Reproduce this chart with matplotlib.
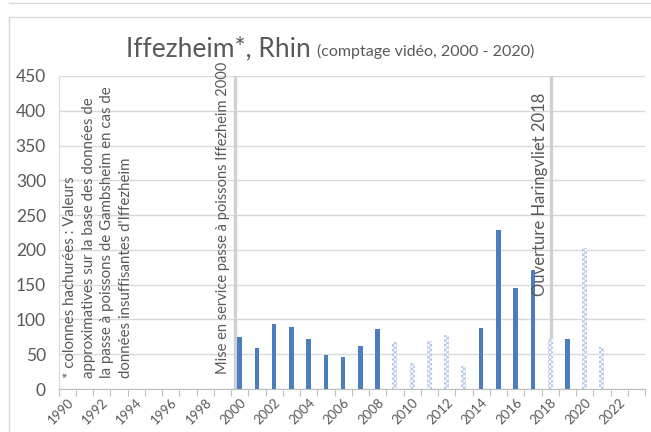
import numpy as np
import matplotlib.pyplot as plt
import matplotlib.patches as mpatches
from matplotlib.lines import Line2D

plt.rcParams['font.family'] = ['Lato', 'DejaVu Sans']
plt.rcParams['hatch.linewidth'] = 0.7

# Data: yearly counts, solid = measured at Iffezheim, hatched = estimated from Gambsheim
years = list(range(1990, 2024))
solid_years = [2000, 2001, 2002, 2003, 2004, 2005, 2006, 2007, 2008, 2014, 2015, 2016, 2017, 2019]
solid_vals = [75, 59, 94, 89, 72, 49, 46, 62, 86, 87, 228, 145, 171, 72]
hatch_years = [2009, 2010, 2011, 2012, 2013, 2018, 2020, 2021]
hatch_vals = [67, 38, 69, 77, 33, 72, 203, 60]
event_pos = [1999.72, 2018.07]
event_labels = ['Mise en service passe à poissons Iffezheim 2000', 'Ouverture Haringvliet 2018']
tick_years = list(range(1990, 2023, 2))

grey = '#595959'
grid = '#d9d9d9'
blue = '#4a7ebf'
hatch_blue = '#b3c8e6'

fig = plt.figure(figsize=(6.51, 4.32), dpi=100)
W, H = 651, 432

# chart frame (outer border) and edge of the element above
fig.patches.append(mpatches.Rectangle((9 / W, -0.01), 1.0, (H - 17) / H + 0.01, transform=fig.transFigure,
                                      fill=False, edgecolor='#d9d9d9', linewidth=1.0))
fig.lines.append(Line2D([9 / W, 1], [1 - 2.5 / H, 1 - 2.5 / H], transform=fig.transFigure, color='#d9d9d9', lw=1.0))

ax = fig.add_axes([58.5 / W, 1 - 389 / H, (645 - 58.5) / W, (389 - 76) / H])

def pos(y):
    return np.asarray(y) - 1990

ax.bar(pos(solid_years), solid_vals, width=0.26, color=blue, zorder=3)
ax.bar(pos(hatch_years), hatch_vals, width=0.28, facecolor='white', edgecolor=hatch_blue,
       hatch='xxxxxxx', linewidth=0, zorder=3)

ax.set_xlim(-0.5, len(years) - 0.5)
ax.set_ylim(0, 450)
ax.set_yticks(range(0, 451, 50))
ax.yaxis.grid(True, color=grid, linewidth=1.0, zorder=0)
ax.set_axisbelow(True)

ax.set_xticks(pos(tick_years))
ax.set_xticklabels([str(y) for y in tick_years], rotation=45, ha='right', rotation_mode='anchor',
                   fontsize=9.5, color=grey)
ax.set_xticks(np.arange(-0.5, len(years), 1.0), minor=True)
ax.tick_params(axis='x', which='major', length=0, pad=5)
ax.tick_params(axis='x', which='minor', length=5, color='#bfbfbf', width=0.8)
ax.tick_params(axis='y', length=0, labelsize=12.5, labelcolor=grey, pad=9)

for s in ['top', 'right']:
    ax.spines[s].set_visible(False)
ax.spines['left'].set_color(grid)
ax.spines['bottom'].set_color('#bfbfbf')

# event lines with labels
ev_sizes = [10.5, 12]
ev_off = [(-5, 14), (-3, -17)]
for xp, lab, fs, off in zip(event_pos, event_labels, ev_sizes, ev_off):
    ax.axvline(pos(xp), color='#d0d0d0', linewidth=2.4, zorder=2)
    ax.annotate(lab, xy=(pos(xp), 1.0), xycoords=('data', 'axes fraction'),
                xytext=off, textcoords='offset pixels', rotation=90,
                ha='right', va='bottom', rotation_mode='anchor', fontsize=fs, color=grey)

note = ("* colonnes hachurées : Valeurs\n"
        "approximatives sur la base des données de\n"
        "la passe à poissons de Gambsheim en cas de\n"
        "données insuffisantes d'Iffezheim")
fig.text(63 / W, 1 - 378 / H, note, rotation=90, rotation_mode='anchor', ha='left', va='top',
         fontsize=10.8, color=grey, linespacing=1.42)

# title in two sizes
t1 = fig.text(126 / W, 1 - 56 / H, 'Iffezheim*, Rhin', fontsize=19, color=grey, ha='left', va='baseline')
fig.canvas.draw()
bb = t1.get_window_extent()
fig.text(bb.x1 / W + 6 / W, 1 - 56 / H, '(comptage vidéo, 2000 - 2020)', fontsize=11.5, color=grey,
         ha='left', va='baseline')

fig.savefig('out.png', dpi=100)
